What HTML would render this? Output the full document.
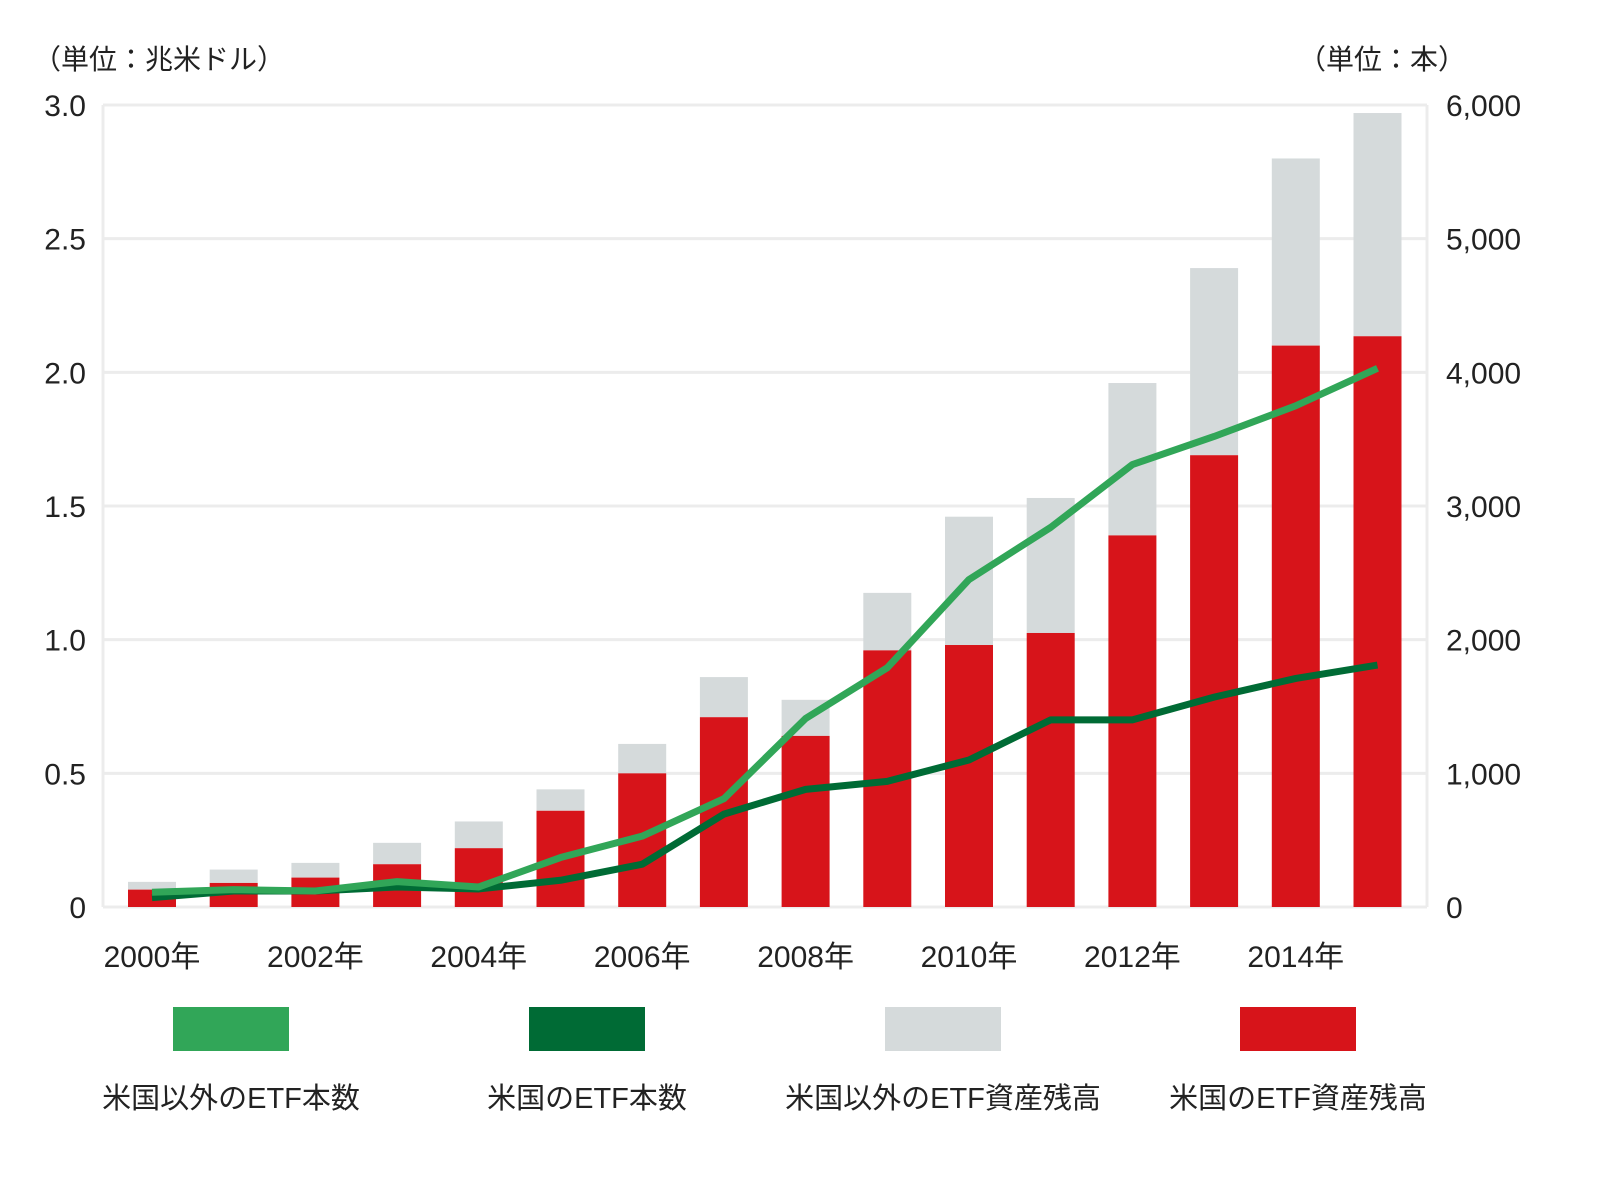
<!DOCTYPE html>
<html><head><meta charset="utf-8"><style>
body{margin:0;background:#fff;}
svg text{font-family:"Liberation Sans","Noto Sans CJK JP",sans-serif;fill:#222;}
</style></head><body>
<svg id="chart" width="1601" height="1178" viewBox="0 0 1601 1178" xmlns="http://www.w3.org/2000/svg">
<g id="grid"></g><g id="bars"></g><g id="lines"></g><g id="axes"></g><g id="legend"></g>
</svg>
<script>
const years=[2000,2001,2002,2003,2004,2005,2006,2007,2008,2009,2010,2011,2012,2013,2014,2015];
const usAssets=[0.065,0.09,0.11,0.16,0.22,0.36,0.50,0.71,0.64,0.96,0.98,1.025,1.39,1.69,2.10,2.135];
const totalAssets=[0.094,0.14,0.165,0.24,0.32,0.44,0.61,0.86,0.775,1.175,1.46,1.53,1.96,2.39,2.80,2.97];
const nonUsCount=[110,130,120,190,150,370,530,810,1410,1790,2450,2840,3310,3520,3750,4030];
const usCount=[70,120,120,150,135,200,320,695,880,940,1100,1400,1400,1570,1710,1810];
const leftTicks=["0","0.5","1.0","1.5","2.0","2.5","3.0"];
const leftTickVals=[0,0.5,1,1.5,2,2.5,3];
const rightTicks=["0","1,000","2,000","3,000","4,000","5,000","6,000"];
const rightTickVals=[0,1000,2000,3000,4000,5000,6000];
const legendLabels=["米国以外のETF本数","米国のETF本数","米国以外のETF資産残高","米国のETF資産残高"];

const NS="http://www.w3.org/2000/svg";
const L=103,R=1427,T=105,B=907;
const step=81.7,x0=152;
const xS=i=>x0+i*step;
const yL=v=>B-(B-T)*v/3;
const yR=v=>B-(B-T)*v/6000;
function mk(p,tag,a,txt){const e=document.createElementNS(NS,tag);for(const k in a)e.setAttribute(k,a[k]);if(txt!==undefined)e.textContent=txt;p.appendChild(e);return e;}
const g=document.getElementById('grid'),gb=document.getElementById('bars'),gl=document.getElementById('lines'),ga=document.getElementById('axes'),gg=document.getElementById('legend');
leftTickVals.forEach((v,i)=>{
 const ln=mk(g,'line',{x1:L,x2:R,y1:yL(v),y2:yL(v),stroke:'#ececec','stroke-width':3});
 
 
 const t=mk(ga,'text',{x:86,y:yL(v)+11,'text-anchor':'end','font-size':30},leftTicks[i]);
 
 
});
rightTickVals.forEach((v,i)=>{
 const t=mk(ga,'text',{x:1446,y:yR(v)+11,'font-size':30},rightTicks[i]);
 
 
});
mk(g,'line',{x1:L,x2:L,y1:T,y2:B,stroke:'#ececec','stroke-width':3});
mk(g,'line',{x1:R,x2:R,y1:T,y2:B,stroke:'#ececec','stroke-width':3});
years.forEach((y,i)=>{
 const x=xS(i)-24;
 const r1=mk(gb,'rect',{x:x,y:yL(totalAssets[i]),width:48,height:yL(usAssets[i])-yL(totalAssets[i]),fill:'#d5dadb'});
 
 
 const r2=mk(gb,'rect',{x:x,y:yL(usAssets[i]),width:48,height:B-yL(usAssets[i]),fill:'#d7141a'});
 
 
 if(i%2===0){const t=mk(ga,'text',{x:xS(i),y:967,'text-anchor':'middle','font-size':30},y+'年');
  
  }
});
const p1=mk(gl,'polyline',{points:usCount.map((v,i)=>xS(i)+','+yR(v)).join(' '),fill:'none',stroke:'#006b35','stroke-width':7,'stroke-linejoin':'round'});


const p2=mk(gl,'polyline',{points:nonUsCount.map((v,i)=>xS(i)+','+yR(v)).join(' '),fill:'none',stroke:'#31a658','stroke-width':7,'stroke-linejoin':'round'});


const u1=mk(ga,'text',{x:33,y:69,'font-size':28},'（単位：兆米ドル）');


const u2=mk(ga,'text',{x:1466,y:69,'font-size':28,'text-anchor':'end'},'（単位：本）');


const cols=['#31a658','#006b35','#d5dadb','#d7141a'];
const lx=[231,587,943,1298];
legendLabels.forEach((s,i)=>{
 const r=mk(gg,'rect',{x:lx[i]-58,y:1007,width:116,height:44,fill:cols[i]});
 
 
 const t=mk(gg,'text',{x:lx[i],y:1108,'text-anchor':'middle','font-size':29},s);
 
 
});
</script>
</body></html>
